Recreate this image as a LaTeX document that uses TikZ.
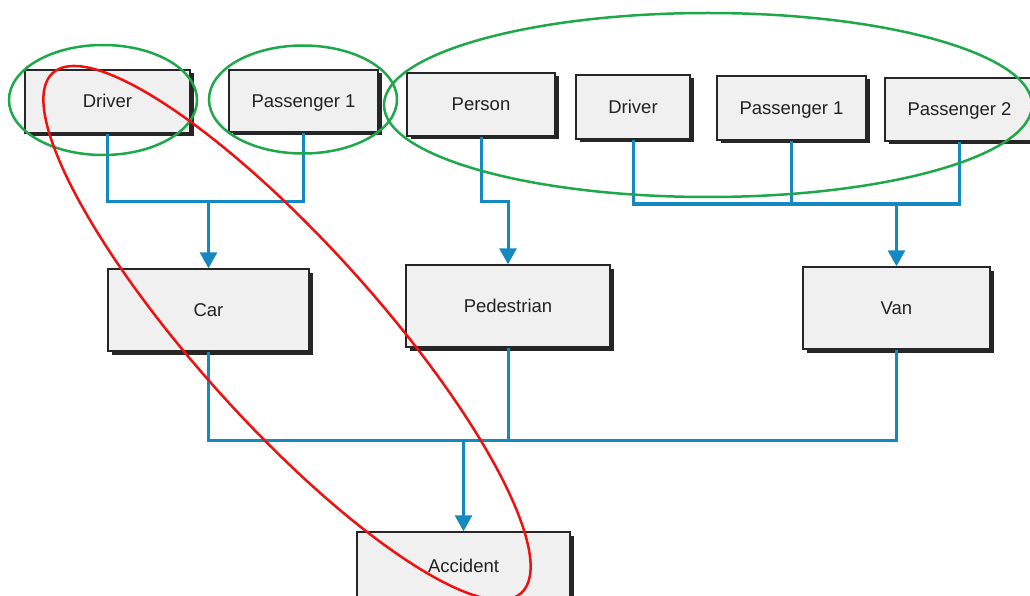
\documentclass[tikz,border=0pt]{standalone}
\usepackage{fontspec}
\setmainfont{Liberation Sans}
\usetikzlibrary{arrows.meta,shadows}
\definecolor{linkblue}{RGB}{20,136,192}
\definecolor{ringgreen}{RGB}{30,168,74}
\definecolor{ringred}{RGB}{240,16,16}
\definecolor{boxfill}{RGB}{240,240,240}
\definecolor{boxtext}{RGB}{34,34,34}
\tikzset{
  box/.style={draw=black!85, line width=1.4pt, fill=boxfill, inner sep=0pt,
    text=boxtext, font=\fontsize{18.5}{20}\selectfont,
    text height=14pt, text depth=1pt,
    drop shadow={shadow xshift=3.5pt, shadow yshift=-3.5pt, fill=black, opacity=0.85}},
  link/.style={draw=linkblue, line width=3pt},
  linkarrow/.style={link, -{Triangle[length=16pt,width=17pt]}},
  ring/.style={line width=2.5pt}
}
\begin{document}
\begin{tikzpicture}[x=1pt,y=-1pt]
\clip (0,0) rectangle (1030,596);
\fill[white] (0,0) rectangle (1030,596);

% boxes
\node[box, minimum width=165pt, minimum height=63pt] (d1) at (107.5,101.5) {Driver};
\node[box, minimum width=149pt, minimum height=62pt] (p1) at (303.5,101) {Passenger 1};
\node[box, minimum width=148pt, minimum height=63pt] (person) at (481,104.5) {Person};
\node[box, minimum width=114pt, minimum height=64pt] (d2) at (633,107) {Driver};
\node[box, minimum width=149pt, minimum height=64pt] (pp1) at (791.5,108) {Passenger 1};
\node[box, minimum width=149pt, minimum height=63pt] (pp2) at (959.5,109.5) {Passenger 2};
\node[box, minimum width=201pt, minimum height=82pt] (car) at (208.5,310) {Car};
\node[box, minimum width=204pt, minimum height=82pt] (ped) at (508,306) {Pedestrian};
\node[box, minimum width=187pt, minimum height=82pt] (van) at (896.5,308) {Van};
\node[box, minimum width=213pt, minimum height=68pt] (acc) at (463.5,566) {Accident};

% junctions
\coordinate (jc) at (208.5,202);
\coordinate (jp) at (508,202);
\coordinate (jv) at (896.5,204);
\coordinate (ja) at (463.5,440);

% connectors
\draw[link] (d1.south) |- (jc);
\draw[link] (p1.south) |- (jc);
\draw[linkarrow] (jc) -- (car.north);

\draw[linkarrow] (person.south) |- (jp) -- (ped.north);

\draw[link] (d2.south) |- (jv) -| (pp2.south);
\draw[link] (pp1.south) -- (pp1.south |- jv);
\draw[linkarrow] (jv) -- (van.north);

\draw[link] (car.south) |- (ja) -| (van.south);
\draw[link] (ped.south) -- (ped.south |- ja);
\draw[linkarrow] (ja) -- (acc.north);

% rings
\draw[ring, ringgreen] (103,100) ellipse [x radius=94, y radius=55];
\draw[ring, ringgreen] (303,99.5) ellipse [x radius=94, y radius=54];
\draw[ring, ringgreen] (708,105) ellipse [x radius=324, y radius=92];
\draw[ring, ringred, rotate around={-48:(287,333)}] (287,333) ellipse [x radius=350, y radius=90];
\end{tikzpicture}
\end{document}
